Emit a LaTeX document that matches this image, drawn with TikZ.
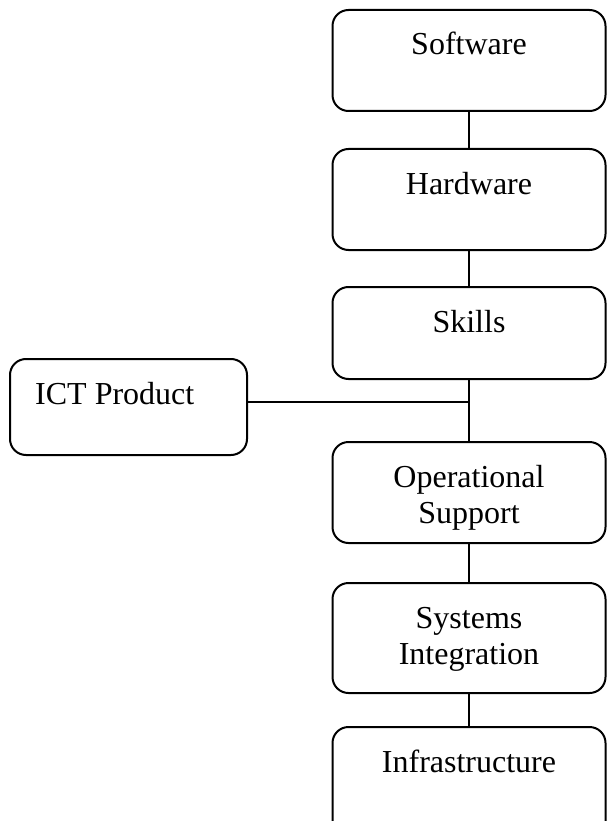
\documentclass[tikz,border=0pt]{standalone}
\usepackage{fontspec}
\setmainfont{Liberation Serif}
\begin{document}
\begin{tikzpicture}[x=1pt,y=-1pt,
  box/.style={draw=black,line width=2pt,rounded corners=16pt,inner sep=0pt,
    minimum width=273pt},
  sidebox/.style={draw=black,line width=2pt,rounded corners=16pt,inner sep=0pt,
    minimum width=237pt,minimum height=96pt},
  lbl/.style={anchor=base,inner sep=0pt,align=center,
    font=\fontsize{32}{36}\selectfont},
  link/.style={draw=black,line width=2pt}]
\useasboundingbox (0,0) rectangle (607,821);
% column of boxes on the right
\node[box,minimum height=101pt] (sw)  at (469,60.5) {};
\node[box,minimum height=101pt] (hw)  at (469,199.5) {};
\node[box,minimum height=92pt]  (sk)  at (469,333) {};
\node[box,minimum height=101pt] (op)  at (469,492.5) {};
\node[box,minimum height=110pt] (si)  at (469,638) {};
\node[box,minimum height=110pt] (inf) at (469,782) {};
% box on the left
\node[sidebox] (ict) at (128.5,407) {};
% texts (base anchor sits on the last line of a two-line label)
\node[lbl] (swt)  at ([yshift=-46]sw.north)  {Software};
\node[lbl] (hwt)  at ([yshift=-46]hw.north)  {Hardware};
\node[lbl] (skt)  at ([yshift=-46]sk.north)  {Skills};
\node[lbl] (opt)  at ([yshift=-82]op.north)  {Operational\\Support};
\node[lbl] (sit)  at ([yshift=-82]si.north)  {Systems\\Integration};
\node[lbl] (inft) at ([yshift=-46]inf.north) {Infrastructure};
\node[lbl,anchor=base west] (ictt) at ([xshift=26,yshift=-46]ict.north west) {ICT Product};
% connectors
\coordinate (j) at (469,402);
\draw[link] (sw) -- (hw);
\draw[link] (hw) -- (sk);
\draw[link] (sk) -- (op);
\draw[link] (op) -- (si);
\draw[link] (si) -- (inf);
\draw[link] (ict.east |- j) -- (j);
\end{tikzpicture}
\end{document}
